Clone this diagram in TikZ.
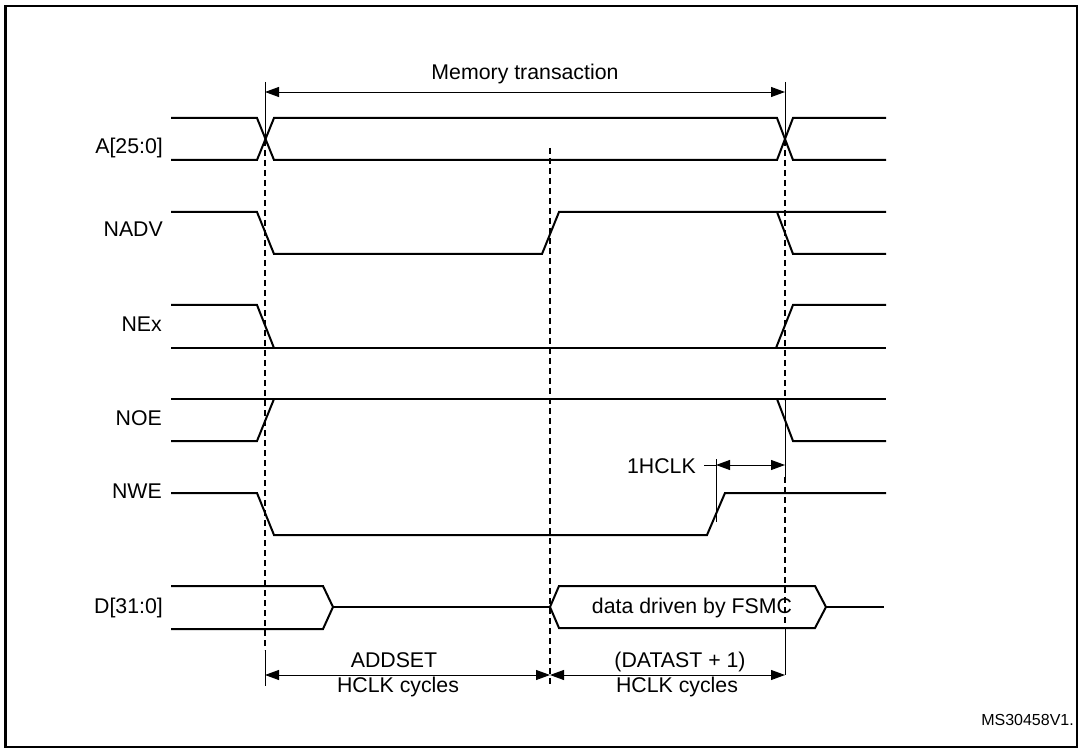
\documentclass[tikz,border=0pt]{standalone}
\usepackage{fontspec}
\setmainfont{Liberation Sans}
\usetikzlibrary{arrows.meta}
\begin{document}
\begin{tikzpicture}[x=1pt,y=-1pt,
  sig/.style={line width=2pt, line join=miter},
  thinln/.style={line width=0.9pt},
  dsh/.style={line width=1.1pt, dash pattern=on 6pt off 4pt},
  dim/.style={line width=0.9pt, {Triangle[length=14pt,width=10pt]}-{Triangle[length=14pt,width=10pt]}},
  lbl/.style={font=\fontsize{21.3}{25}\selectfont, inner sep=0pt},
  small/.style={font=\fontsize{16}{19}\selectfont, inner sep=0pt},
]
\useasboundingbox (0,0) rectangle (1082,751);
\draw[line width=2.5pt] (5.5,6) rectangle (1077,747);

% time markers
\coordinate (t0) at (265,82);
\coordinate (t1) at (550,148);
\coordinate (t2) at (785,82);

% A[25:0]
\draw[sig] (171,118) -- (257,118) -- (274,160) -- (777,160) -- (793,118) -- (886,118);
\draw[sig] (171,160) -- (257,160) -- (274,118) -- (777,118) -- (793,160) -- (886,160);
% NADV
\draw[sig] (171,212) -- (257,212) -- (274,254) -- (542,254) -- (559,212) -- (886,212);
\draw[sig] (777,212) -- (793,254) -- (886,254);
% NEx
\draw[sig] (171,305) -- (257,305) -- (274,348);
\draw[sig] (171,348) -- (886,348);
\draw[sig] (776,348) -- (793,305) -- (886,305);
% NOE
\draw[sig] (171,399) -- (886,399);
\draw[sig] (171,441) -- (257,441) -- (274,399);
\draw[sig] (777,399) -- (793,441) -- (886,441);
% NWE
\draw[sig] (171,493) -- (257,493) -- (274,535) -- (707,535) -- (725,493) -- (886,493);
% D[31:0]
\draw[sig] (171,586) -- (323,586) -- (333,607) -- (323,629) -- (171,629);
\draw[sig] (333,607) -- (550,607);
\draw[sig] (550,607) -- (559,586) -- (815,586) -- (826,607) -- (815,628) -- (559,628) -- cycle;
\draw[sig] (826,607) -- (884,607);

% vertical markers
\draw[thinln] (t0) -- (265,140);
\draw[dsh] (265,140) -- (265,650);
\draw[thinln] (265,650) -- (265,686);
\draw[dsh] (t1) -- (550,684);
\draw[thinln] (t2) -- (785,140);
\draw[dsh] (785,140) -- (785,400);
\draw[thinln] (785,400) -- (785,477);
\draw[dsh] (785,477) -- (785,628);
\draw[thinln] (785,628) -- (785,675);
\draw[thinln] (716,459) -- (716,522);

% dimension arrows
\coordinate (mL) at (265,92);
\coordinate (mR) at (785,92);
\draw[dim] (mL) -- (mR);
\node[lbl, anchor=base] (mt) at (525,80) {Memory transaction};

\coordinate (bL) at (265,675);
\coordinate (bM) at (550,675);
\coordinate (bR) at (785,675);
\draw[dim] (bL) -- (bM);
\draw[dim] (bM) -- (bR);
\node[lbl, anchor=base] (addset) at (394,667) {ADDSET};
\node[lbl, anchor=base] (hc1) at (398,692) {HCLK cycles};
\node[lbl, anchor=base] (datast) at (680,667) {(DATAST + 1)};
\node[lbl, anchor=base] (hc2) at (677,692) {HCLK cycles};

\coordinate (hL) at (716,465);
\coordinate (hR) at (785,465);
\coordinate (hT) at (704,465);
\draw[dim] (hL) -- (hR);
\node[lbl, anchor=base east] (hclk) at (696,473) {1HCLK};
\draw[thinln] (hT) -- (hL);

% data label
\node[lbl, anchor=base] (data) at (692,613) {data driven by FSMC};

% signal names
\node[lbl, anchor=base east] (nA) at (163,154) {A[25:0]};
\node[lbl, anchor=base east] (nADV) at (163,237) {NADV};
\node[lbl, anchor=base east] (nEx) at (162,332) {NEx};
\node[lbl, anchor=base east] (nOE) at (162,425) {NOE};
\node[lbl, anchor=base east] (nWE) at (162,498) {NWE};
\node[lbl, anchor=base east] (nD) at (163,613) {D[31:0]};

\node[small, anchor=base east] (ms) at (1074,725) {MS30458V1.};
\end{tikzpicture}
\end{document}
